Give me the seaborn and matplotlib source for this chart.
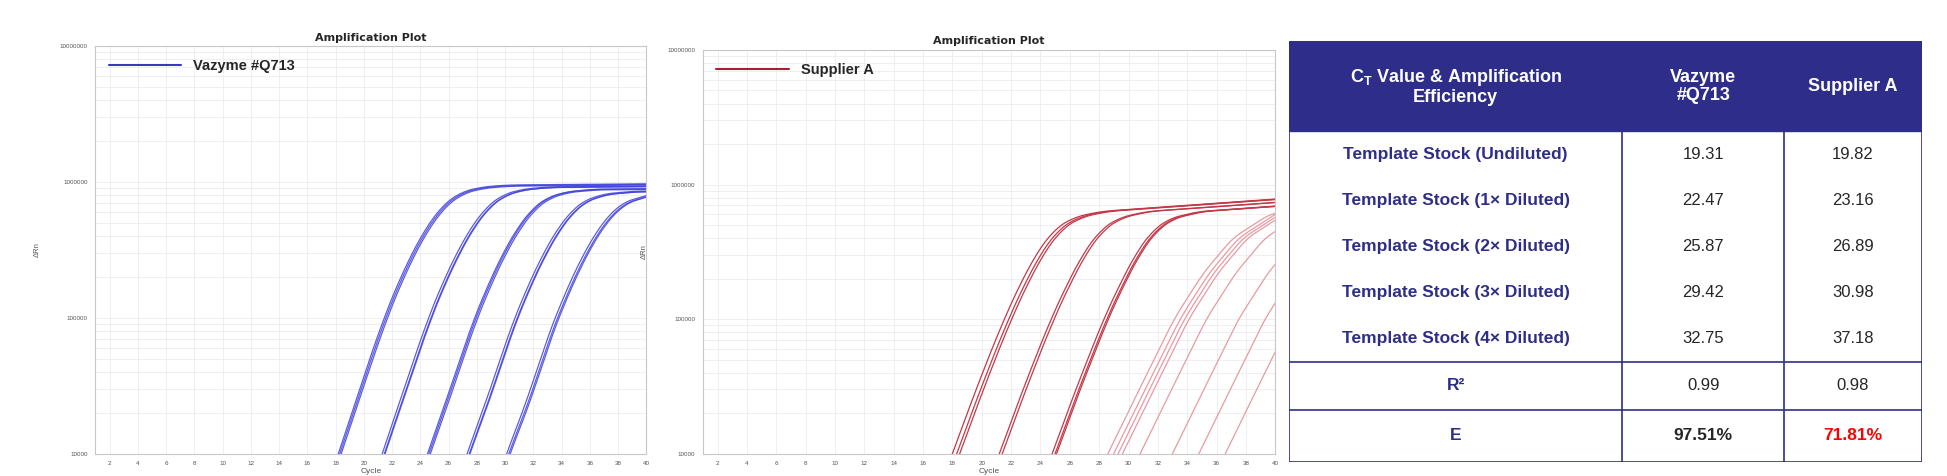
import numpy as np
import pandas as pd
import seaborn as sns
import matplotlib.pyplot as plt
from matplotlib.ticker import FixedLocator, LogLocator, NullFormatter

sns.set_style("white")
plt.rcParams['font.family'] = ['Liberation Sans', 'DejaVu Sans']

# curve shapes: cycles after crossing 1e4, delta Rn
vaz_shape_dc = [-1.5, 0, 1.3, 3.2, 4.4, 5.4, 6.4, 7.4, 8.4, 9.8, 11.8, 22]
vaz_shape_val = [3.4e3, 1e4, 2.6e4, 1e5, 2e5, 3.3e5, 5e5, 6.8e5, 8.2e5, 9.1e5, 9.5e5, 9.7e5]
vaz_starts = [18.2, 18.3, 18.4, 21.3, 21.45, 21.5, 24.5, 24.6, 24.7,
              27.3, 27.45, 27.5, 30.1, 30.25, 30.35]
vaz_scale = [1.0, 0.99, 0.98, 0.97, 0.96, 0.96, 0.93, 0.93, 0.92,
             0.9, 0.89, 0.89, 0.87, 0.86, 0.86]

sup_shape_dc = [-1.5, 0, 1.5, 3.5, 4.8, 5.8, 6.8, 8.0, 10.0, 22]
sup_shape_val = [3.6e3, 1e4, 2.8e4, 1e5, 2e5, 3.2e5, 4.5e5, 5.6e5, 6.3e5, 7.8e5]
sup_starts = [18.0, 18.3, 18.5, 21.2, 21.4, 24.8, 25.0, 25.1]
late_shape_dc = [-2, 0, 2, 4.5, 6.5, 8.5, 11, 14]
late_shape_val = [3.6e3, 1e4, 2.8e4, 1e5, 2.2e5, 4e5, 6e5, 7e5]
late_starts = [28.6, 29.0, 29.3, 29.6, 30.8, 33.0, 34.8, 36.6]

rows = ["Template Stock (Undiluted)", "Template Stock (1\u00d7 Diluted)",
        "Template Stock (2\u00d7 Diluted)", "Template Stock (3\u00d7 Diluted)",
        "Template Stock (4\u00d7 Diluted)"]
vaz_ct = ["19.31", "22.47", "25.87", "29.42", "32.75"]
sup_ct = ["19.82", "23.16", "26.89", "30.98", "37.18"]
r2 = ["0.99", "0.98"]
eff = ["97.51%", "71.81%"]


def build(starts, dc, val, scale=None, tag=""):
    recs = []
    for i, s in enumerate(starts):
        c = np.array(dc) + s
        v = np.array(val) * (scale[i] if scale else 1.0)
        v[:2] = val[:2]
        keep = c <= 40
        cc = list(c[keep]); vv = list(v[keep])
        if c.max() > 40:
            end = 10 ** np.interp(40, c, np.log10(v))
            cc.append(40); vv.append(end)
        # smooth in log space
        fine = np.linspace(cc[0], cc[-1], 150)
        lv = np.interp(fine, cc, np.log10(vv))
        lv = np.convolve(np.pad(lv, 6, mode='reflect', reflect_type='odd'), np.ones(13) / 13, mode='valid')
        for x, y in zip(fine, 10 ** lv):
            recs.append({"cycle": x, "drn": y, "curve": f"{tag}{i}"})
    return pd.DataFrame(recs)


def style_amp(ax, label, color):
    ax.set_yscale('log')
    ax.set_xlim(1, 40)
    ax.set_ylim(1e4, 1e7)
    ax.xaxis.set_major_locator(FixedLocator(range(2, 41, 2)))
    ax.yaxis.set_major_locator(FixedLocator([1e4, 1e5, 1e6, 1e7]))
    ax.set_yticklabels(["10000", "100000", "1000000", "10000000"])
    ax.yaxis.set_minor_locator(LogLocator(subs=np.arange(2, 10)))
    ax.yaxis.set_minor_formatter(NullFormatter())
    ax.tick_params(labelsize=4.5, colors='#555555', length=2)
    ax.grid(True, which='both', color='#ececec', lw=0.6)
    for sp in ax.spines.values():
        sp.set_color('#c8c8c8')
    ax.set_title("Amplification Plot", fontsize=8, fontweight='bold', pad=4, family='DejaVu Sans')
    ax.set_xlabel("Cycle", fontsize=6, color='#555555', labelpad=1)
    ax.set_ylabel("\u0394Rn", fontsize=5.5, color='#555555', labelpad=14)
    ax.plot([], [], color=color, lw=1.5, label=label)
    ax.legend(loc='upper left', frameon=False, handlelength=5,
              prop={'size': 10.5, 'weight': 'bold'})


fig = plt.figure(figsize=(19.47, 4.76), dpi=100)
ax1 = fig.add_axes([0.049, 0.047, 0.283, 0.856])
ax2 = fig.add_axes([0.361, 0.047, 0.294, 0.848])
ax3 = fig.add_axes([0.662, 0.029, 0.325, 0.884])

d1 = build(vaz_starts, vaz_shape_dc, vaz_shape_val, vaz_scale, "v")
sns.lineplot(data=d1, x="cycle", y="drn", units="curve", estimator=None,
             color='#4040dd', lw=0.9, alpha=0.85, ax=ax1, legend=False)
style_amp(ax1, "Vazyme #Q713", '#3838b8')

d2 = build(sup_starts, sup_shape_dc, sup_shape_val, None, "s")
d3 = build(late_starts, late_shape_dc, late_shape_val, None, "l")
sns.lineplot(data=d2, x="cycle", y="drn", units="curve", estimator=None,
             color='#c43848', lw=0.9, ax=ax2, legend=False)
sns.lineplot(data=d3, x="cycle", y="drn", units="curve", estimator=None,
             color='#e89aa4', lw=0.9, ax=ax2, legend=False)
style_amp(ax2, "Supplier A", '#a82030')

# table
navy = '#2e2e8a'
ax3.set_xlim(0, 1); ax3.set_ylim(0, 1); ax3.axis('off')
x0, x1, x2, x3 = 0.0, 0.527, 0.783, 1.0
hdr_top, hdr_bot = 1.0, 0.786
row_h = (hdr_bot - 0.238) / 5
y_r2, y_e = 0.238, 0.125
ax3.add_patch(plt.Rectangle((0, hdr_bot), 1, hdr_top - hdr_bot, color=navy))
ax3.text((x0 + x1) / 2, (hdr_top + hdr_bot) / 2, "C$_\\mathregular{T}$ Value & Amplification\nEfficiency",
         ha='center', va='center', color='white', fontsize=13, fontweight='bold', linespacing=1.1)
ax3.text((x1 + x2) / 2, (hdr_top + hdr_bot) / 2, "Vazyme\n#Q713", ha='center', va='center',
         color='white', fontsize=13, fontweight='bold', linespacing=1.1)
ax3.text((x2 + x3) / 2, (hdr_top + hdr_bot) / 2, "Supplier A", ha='center', va='center',
         color='white', fontsize=13, fontweight='bold')
for i, name in enumerate(rows):
    yc = hdr_bot - row_h * (i + 0.5)
    ax3.text((x0 + x1) / 2, yc, name, ha='center', va='center', color=navy, fontsize=12.5, fontweight='bold')
    ax3.text((x1 + x2) / 2, yc, vaz_ct[i], ha='center', va='center', fontsize=12)
    ax3.text((x2 + x3) / 2, yc, sup_ct[i], ha='center', va='center', fontsize=12)
ax3.text((x0 + x1) / 2, (y_r2 + y_e) / 2, "R\u00b2", ha='center', va='center', color=navy, fontsize=12.5, fontweight='bold')
ax3.text((x1 + x2) / 2, (y_r2 + y_e) / 2, r2[0], ha='center', va='center', fontsize=12)
ax3.text((x2 + x3) / 2, (y_r2 + y_e) / 2, r2[1], ha='center', va='center', fontsize=12)
ax3.text((x0 + x1) / 2, y_e / 2, "E", ha='center', va='center', color=navy, fontsize=12.5, fontweight='bold')
ax3.text((x1 + x2) / 2, y_e / 2, eff[0], ha='center', va='center', fontsize=12.5, fontweight='bold')
ax3.text((x2 + x3) / 2, y_e / 2, eff[1], ha='center', va='center', fontsize=12.5, fontweight='bold', color='red')
for x in (x0, x1, x2, x3):
    ax3.plot([x, x], [0, hdr_bot], color=navy, lw=1.2)
for y in (y_r2, y_e, 0):
    ax3.plot([0, 1], [y, y], color=navy, lw=1.2)

fig.savefig("out.png", dpi=100)
